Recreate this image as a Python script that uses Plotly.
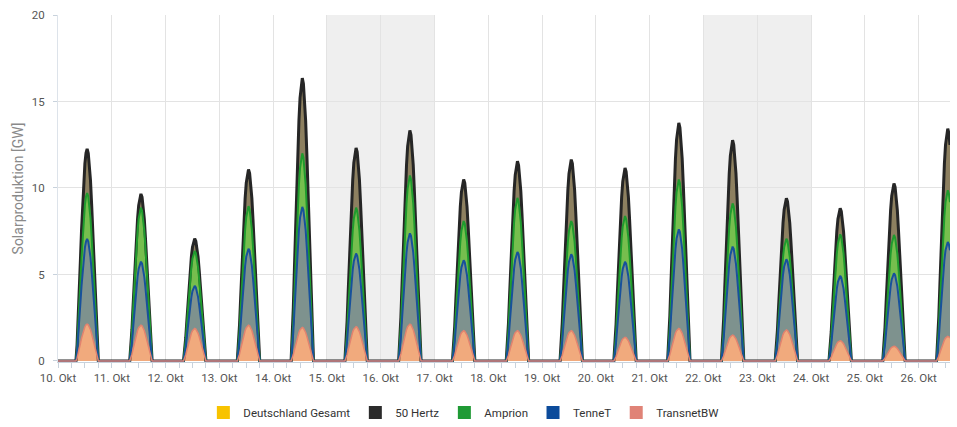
import plotly.graph_objects as go
from datetime import datetime, timedelta

# ---------------- data ----------------
day_dates = ["2016-10-10", "2016-10-11", "2016-10-12", "2016-10-13", "2016-10-14",
             "2016-10-15", "2016-10-16", "2016-10-17", "2016-10-18", "2016-10-19",
             "2016-10-20", "2016-10-21", "2016-10-22", "2016-10-23", "2016-10-24",
             "2016-10-25", "2016-10-26"]
tick_labels = ["10. Okt", "11. Okt", "12. Okt", "13. Okt", "14. Okt", "15. Okt",
               "16. Okt", "17. Okt", "18. Okt", "19. Okt", "20. Okt", "21. Okt",
               "22. Okt", "23. Okt", "24. Okt", "25. Okt", "26. Okt"]

# daily peak production per TSO [GW]
transnetbw_peak = [2.13, 2.07, 1.88, 2.07, 1.94, 1.98, 2.13, 1.75, 1.75, 1.75, 1.37, 1.88, 1.50, 1.79, 1.17, 0.85, 1.42]
tennet_peak     = [4.92, 3.67, 2.46, 4.42, 6.97, 4.23, 5.25, 4.07, 4.55, 4.42, 4.36, 5.73, 5.11, 4.09, 3.75, 4.22, 5.46]
amprion_peak    = [2.65, 3.12, 2.02, 2.46, 3.09, 2.65, 3.34, 2.27, 3.13, 1.92, 2.65, 2.88, 2.50, 1.19, 2.40, 2.21, 2.99]
hertz50_peak    = [2.56, 0.80, 0.71, 2.12, 4.35, 3.46, 2.61, 2.40, 2.12, 3.55, 2.78, 3.27, 3.65, 2.33, 1.50, 2.98, 3.56]
gesamt_peak     = [12.26, 9.66, 7.07, 11.07, 16.35, 12.32, 13.33, 10.49, 11.55, 11.64, 11.16, 13.76, 12.76, 9.40, 8.82, 10.26, 13.43]

# shape of one day's production curve (hour of day, share of the day's peak)
profile_hours = [8.0, 8.5, 9.0, 9.5, 10.0, 10.5, 11.0, 11.5, 12.0, 12.5, 13.0,
                 13.5, 14.0, 14.5, 15.0, 15.5, 16.0, 16.5, 17.0, 17.5, 18.0]
profile_share = [0.0, 0.075, 0.19, 0.33, 0.475, 0.615, 0.74, 0.85, 0.93, 0.98, 1.0,
                 0.98, 0.93, 0.85, 0.74, 0.615, 0.475, 0.33, 0.19, 0.075, 0.0]

data_start = "2016-10-10 00:00"
data_end = "2016-10-26 14:00"
weekends = [("2016-10-15", "2016-10-17"), ("2016-10-22", "2016-10-24")]

# ---------------- build time series ----------------
t_end = datetime.fromisoformat(data_end)


def build(peaks):
    xs = [datetime.fromisoformat(data_start)]
    ys = [0.0]
    for d, p in zip(day_dates, peaks):
        base = datetime.fromisoformat(d)
        for h, s in zip(profile_hours, profile_share):
            t = base + timedelta(hours=h)
            if t <= t_end:
                xs.append(t)
                ys.append(round(p * s, 3))
    return xs, ys


# stacking order: bottom to top
series = [
    ("TransnetBW", transnetbw_peak, "#f1aa7d", "#e2836f", 1.5),
    ("TenneT", tennet_peak, "#7e928e", "#17519c", 2),
    ("Amprion", amprion_peak, "#76be4e", "#1f9b2e", 2),
    ("50 Hertz", hertz50_peak, "#8d8060", "#262626", 3),
]

fig = go.Figure()

# Deutschland Gesamt (beneath, covered by the stacked TSO areas)
gx, gy = build(gesamt_peak)
fig.add_trace(go.Scatter(x=gx, y=gy, name="Deutschland Gesamt", mode="lines",
                         line=dict(color="#f8c300", width=0),
                         fill="tozeroy", fillcolor="#f8c300", showlegend=False,
                         hoverinfo="skip"))

# stacked fills
built = []
for name, peaks, fc, lc, lw in series:
    x, y = build(peaks)
    built.append((x, y))
    fig.add_trace(go.Scatter(x=x, y=y, name=name, mode="lines", stackgroup="fill",
                             line=dict(width=0, color=fc),
                             fillcolor=fc, showlegend=False, hoverinfo="skip"))

# outlines: top of each stacked band, drawn from the top series down so that
# lower series' lines lie above the others along the zero line
tops = []
acc = None
for (x, y) in built:
    acc = list(y) if acc is None else [a + b for a, b in zip(acc, y)]
    tops.append((x, acc))
for (name, peaks, fc, lc, lw), (x, top) in reversed(list(zip(series, tops))):
    fig.add_trace(go.Scatter(x=x, y=top, name=name, mode="lines",
                             line=dict(width=lw, color=lc), showlegend=False))

# legend entries
legend_items = [("Deutschland Gesamt", "#f8c300"), ("50 Hertz", "#2b2b2b"),
                ("Amprion", "#1f9a35"), ("TenneT", "#0c4b9b"), ("TransnetBW", "#e08377")]
for name, col in legend_items:
    fig.add_trace(go.Scatter(x=[None], y=[None], mode="markers", name=name,
                             marker=dict(symbol="square", size=13, color=col)))

shapes = []
for a, b in weekends:
    shapes.append(dict(type="rect", xref="x", yref="paper", x0=a, x1=b, y0=0, y1=1,
                       fillcolor="#efefef", line=dict(width=0), layer="below"))

fig.update_layout(
    width=957, height=427,
    margin=dict(l=58, r=7, t=15, b=65),
    paper_bgcolor="white", plot_bgcolor="white",
    font=dict(family="Roboto", size=11, color="#555"),
    shapes=shapes,
    showlegend=True,
    legend=dict(orientation="h", x=0.455, xanchor="center",
                yref="container", y=-0.03, yanchor="bottom",
                traceorder="normal",
                font=dict(size=11.5, color="#333"), itemwidth=30,
                bgcolor="rgba(0,0,0,0)"),
    xaxis=dict(
        type="date", range=[data_start, data_end],
        tickvals=day_dates, ticktext=tick_labels,
        showgrid=True, gridcolor="#e3e3e3", gridwidth=1,
        ticks="outside", ticklen=5, tickcolor="#c8d2dc",
        showline=True, linecolor="#c8d2dc", linewidth=1,
        minor=dict(dtick=6 * 3600 * 1000, ticks="outside", ticklen=5,
                   tickcolor="#c8d2dc", showgrid=False),
        ticklabelstandoff=0,
        tickfont=dict(size=11.5, color="#555"),
        zeroline=False,
    ),
    yaxis=dict(
        range=[-0.06, 20], tickvals=[0, 5, 10, 15, 20],
        showgrid=True, gridcolor="#e3e3e3", gridwidth=1,
        ticks="outside", ticklen=4, tickcolor="#c8d2dc",
        showline=True, linecolor="#dde3ea", linewidth=1,
        ticklabelstandoff=6,
        tickfont=dict(size=11.5, color="#555"),
        title=dict(text="Solarproduktion [GW]", font=dict(size=14, color="#8a8a8a"), standoff=4),
        zeroline=False,
    ),
)

fig.write_html("out.html", config={"displayModeBar": False},
               post_script="document.body.style.margin='0';")
